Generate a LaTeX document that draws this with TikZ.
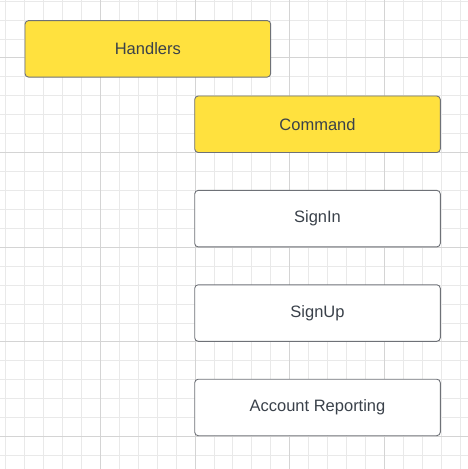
\documentclass[tikz,border=0pt]{standalone}
\usepackage{fontspec}
\setmainfont{Liberation Sans}
\usetikzlibrary{positioning}
\definecolor{lucidyellow}{HTML}{FFE13E}
\definecolor{boxline}{HTML}{6E7177}
\definecolor{boxtext}{HTML}{3A414A}
\definecolor{gridminor}{HTML}{E9E9E9}
\definecolor{gridmajor}{HTML}{D4D4D4}
\tikzstyle{block} = [draw=boxline, line width=0.9bp, rectangle, rounded corners=3.5bp,
    minimum width=245.6bp, minimum height=56.5bp, inner sep=0pt,
    text=boxtext, font=\fontsize{16.5bp}{20bp}\selectfont]
\tikzstyle{yellowblock} = [block, fill=lucidyellow]
\tikzstyle{whiteblock} = [block, fill=white]

\begin{document}
\begin{tikzpicture}[x=1bp, y=-1bp, node distance=37bp]
    \useasboundingbox (0,0) rectangle (468,469);
    \fill[white] (0,0) rectangle (468,469);
    % background grid
    \foreach \i in {0,...,24} {
        \draw[gridminor, line width=0.8bp] ({5.7+18.93*\i},0) -- ({5.7+18.93*\i},469);
        \draw[gridminor, line width=0.8bp] (0,{1.1+18.93*\i}) -- (468,{1.1+18.93*\i});
    }
    \foreach \i in {5,10,15,20} {
        \draw[gridmajor, line width=0.8bp] ({5.7+18.93*\i},0) -- ({5.7+18.93*\i},469);
    }
    \foreach \i in {3,8,13,18,23} {
        \draw[gridmajor, line width=0.8bp] (0,{1.1+18.93*\i}) -- (468,{1.1+18.93*\i});
    }
    % boxes
    \node[yellowblock] (handlers) at (147.85,48.85) {Handlers};
    \node[yellowblock] (command) at (317.5,124.25) {Command};
    \node[whiteblock, below=of command] (signin) {SignIn};
    \node[whiteblock, below=of signin] (signup) {SignUp};
    \node[whiteblock, below=of signup] (reporting) {Account Reporting};
\end{tikzpicture}
\end{document}
